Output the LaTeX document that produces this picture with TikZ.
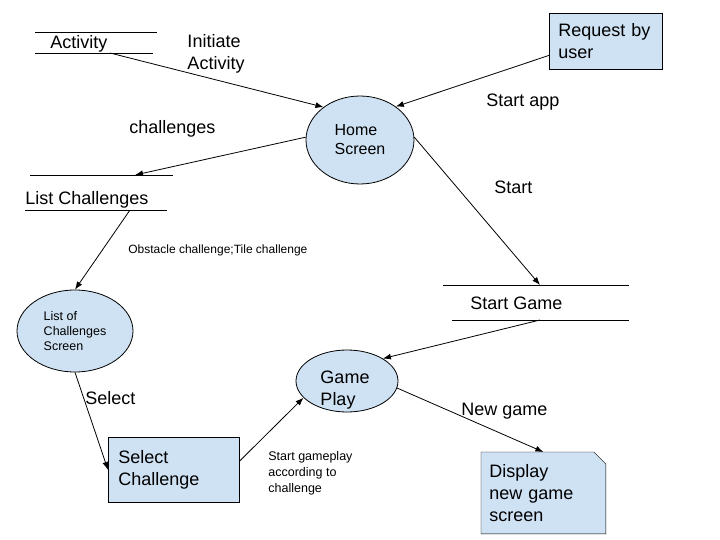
\documentclass[tikz,border=0pt]{standalone}
\usepackage{fontspec}
\setmainfont{Liberation Sans}
\usetikzlibrary{shapes.geometric,arrows.meta,backgrounds}
\definecolor{procBlue}{HTML}{CFE2F3}

\begin{document}
\begin{tikzpicture}[x=1pt,y=-1pt,line width=0.8pt,
  process/.style={ellipse,draw,fill=procBlue,inner sep=0pt,align=left},
  entity/.style={rectangle,draw,fill=procBlue,align=left,anchor=north west},
  flow/.style={-{Latex[length=8pt,width=6pt]}},
  flowText/.style={inner sep=0pt,anchor=base west},
  bigText/.style={font=\fontsize{18}{22}\selectfont},
  midText/.style={font=\fontsize{16}{19}\selectfont},
  smallText/.style={font=\fontsize{12.5}{15}\selectfont}]
  \useasboundingbox (0,0) rectangle (720,540);

  \node (activity) [flowText,bigText] at (50,49) {Activity};
  \draw (35,32) -- (157,32);
  \draw (35,53) -- (153,53);
  \coordinate (activityOut) at (110,53);

  \node (listChallenges) [flowText,bigText] at (25,205) {List Challenges};
  \draw (30,175) -- (173,175);
  \draw (25,210) -- (167,210);
  \coordinate (listIn) at (135,175);
  \coordinate (listOut) at (130,210);

  \node (startGame) [flowText,bigText] at (470,309) {Start Game};
  \draw (443,285) -- (629,285);
  \draw (452,320) -- (629,320);
  \coordinate (startIn) at (540,285);
  \coordinate (startOut) at (540,320);

  \node (home) [process,midText,minimum width=108pt,minimum height=88pt] at (360,140) {Home\\Screen};
  \node (challengeScreen) [process,smallText,minimum width=116pt,minimum height=82pt] at (75,331) {List of\\Challenges\\Screen};
  \node (gamePlay) [process,minimum width=102pt,minimum height=62pt] at (347,381) {};
  \node (gamePlayText) [bigText,align=left] at (345,390) {Game\\Play};

  \node (request) [entity,bigText,text width=95pt,inner xsep=9pt,minimum height=56pt] at (549,13) {Request by\\user};
  \node (select) [entity,bigText,text width=111pt,inner xsep=10pt,minimum height=65pt] at (108,437) {Select\\Challenge};
  \node (display) [rectangle,bigText,align=left,anchor=north west,text width=108pt,inner xsep=8pt,minimum height=81pt] at (481,452) {Display\\new game\\screen};
  \begin{scope}[on background layer]
    \filldraw[fill=procBlue] (display.north west) -- ([xshift=-12pt]display.north east)
      -- ([yshift=-12pt]display.north east) -- (display.south east) -- (display.south west) -- cycle;
  \end{scope}

  \node (initiateLbl) [bigText,align=left,inner sep=0pt] at (216,54) {Initiate\\Activity};
  \node (startAppLbl) [flowText,bigText] at (486,107) {Start app};
  \node (challengesLbl) [flowText,bigText] at (129,134) {challenges};
  \node (startLbl) [flowText,bigText] at (494,194) {Start};
  \node (obstacleLbl) [flowText,font=\fontsize{12}{15}\selectfont] at (128,253) {Obstacle challenge;Tile challenge};
  \node (selectLbl) [flowText,bigText] at (85,404) {Select};
  \node (gameplayLbl) [smallText,align=left,inner sep=0pt,anchor=west,font=\fontsize{12.5}{16}\selectfont] at (268,473) {Start gameplay\\according to\\challenge};
  \node (newGameLbl) [flowText,bigText] at (461,415) {New game};

  \draw[flow] (activityOut) -- (home.138);
  \draw[flow] ([yshift=-14pt]request.west) -- (home.43);
  \draw[flow] (home.177) -- (listIn);
  \draw[flow] (listOut) -- (challengeScreen.north);
  \draw[flow] (home.3) -- (startIn);
  \draw[flow] (startOut) -- (gamePlay.32);
  \draw[flow] (challengeScreen.south) -- (select.west);
  \draw[flow] ([yshift=9pt]select.east) -- (gamePlay.201);
  \draw[flow] (gamePlay.-8) -- (display.north);
\end{tikzpicture}
\end{document}
